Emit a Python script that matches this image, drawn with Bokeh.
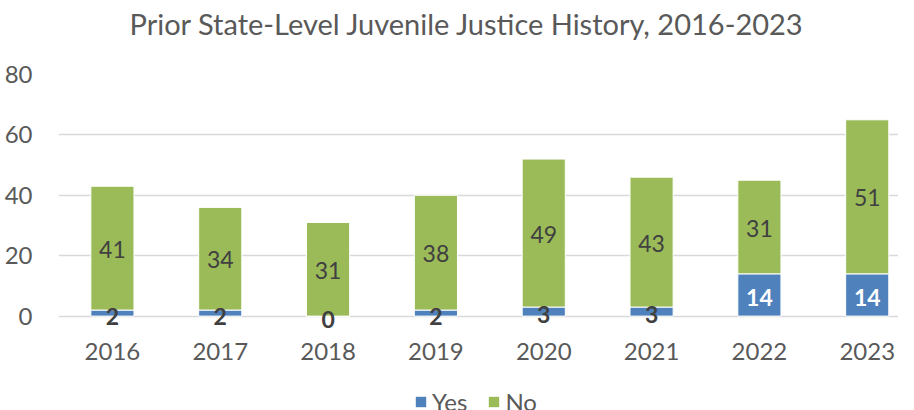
from bokeh.plotting import figure
from bokeh.models import ColumnDataSource, Range1d, Legend, LegendItem, FixedTicker, Title
from bokeh.layouts import column
from bokeh.core.properties import value
from bokeh.embed import file_html
from bokeh.resources import INLINE

years = ["2016", "2017", "2018", "2019", "2020", "2021", "2022", "2023"]
yes_vals = [2, 2, 0, 2, 3, 3, 14, 14]
no_vals = [41, 34, 31, 38, 49, 43, 31, 51]
y_ticks = [0, 20, 40, 60, 80]
series = ["Yes", "No"]

BLUE = "#4F81BD"
GREEN = "#9BBB59"
FONT = "Lato"

xs = list(range(len(years)))
src = ColumnDataSource(dict(x=xs, Yes=yes_vals, No=no_vals))

p = figure(width=898, height=368, x_range=Range1d(-0.5, 7.29), y_range=Range1d(-4.1, 80),
           output_backend="svg", toolbar_location=None,
           min_border_left=58, min_border_right=0, min_border_top=0, min_border_bottom=40)
p.title = None
p.outline_line_color = None
p.background_fill_color = "white"
p.border_fill_color = "white"

spacer = Title(text=" ", text_font=FONT, text_font_size="24px", standoff=0)
p.add_layout(spacer, "above")
title = Title(text="Prior State-Level Juvenile Justice History, 2016-2023",
              text_font=FONT, text_font_size="29px", text_font_style="normal",
              text_color="#595959", align="left", offset=71, standoff=6)
p.add_layout(title, "above")

r = p.vbar_stack(series, x="x", width=0.4, source=src, color=[BLUE, GREEN],
                 line_color="white", line_width=1)

# data labels
yes_y = [v / 2 for v in yes_vals]
no_y = [y + n / 2 for y, n in zip(yes_vals, no_vals)]
yes_col = ["white" if v >= 10 else "#404040" for v in yes_vals]
lab = ColumnDataSource(dict(x=xs, yy=yes_y, ny=no_y,
                            yt=[str(v) for v in yes_vals], nt=[str(v) for v in no_vals],
                            yc=yes_col))
p.text(x="x", y="ny", text="nt", source=lab, text_align="center", text_baseline="middle",
       text_font=value(FONT), text_font_size="23px", text_color="#404040", y_offset=1)
p.text(x="x", y="yy", text="yt", source=lab, text_align="center", text_baseline="middle",
       text_font=value(FONT), text_font_size="23px", text_font_style="bold",
       text_color="yc", y_offset=3)

p.xgrid.grid_line_color = None
p.ygrid.grid_line_color = "#D9D9D9"
p.ygrid.grid_line_width = 1.5

p.yaxis.ticker = FixedTicker(ticks=y_ticks)
p.yaxis.axis_line_color = None
p.yaxis.major_tick_line_color = None
p.yaxis.minor_tick_line_color = None
p.yaxis.major_tick_out = 0
p.yaxis.major_label_text_font = FONT
p.yaxis.major_label_text_font_size = "24px"
p.yaxis.major_label_text_color = "#595959"
p.yaxis.major_label_standoff = 26

p.xaxis.ticker = FixedTicker(ticks=xs)
p.xaxis.major_label_overrides = {i: y for i, y in zip(xs, years)}
p.xaxis.axis_line_color = None
p.xaxis.major_tick_line_color = None
p.xaxis.minor_tick_line_color = None
p.xaxis.major_tick_out = 0
p.xaxis.major_label_text_font = FONT
p.xaxis.major_label_text_font_size = "24px"
p.xaxis.major_label_text_color = "#595959"
p.xaxis.major_label_standoff = 14

# legend strip below the chart (swatch renderers sit outside the visible range)
p2 = figure(width=898, height=56, x_range=Range1d(0, 1), y_range=Range1d(0, 1),
            output_backend="svg", toolbar_location=None,
            x_axis_location=None, y_axis_location=None,
            min_border_left=0, min_border_right=0, min_border_top=0, min_border_bottom=0)
p2.outline_line_color = None
p2.xgrid.grid_line_color = None
p2.ygrid.grid_line_color = None
swatch = ColumnDataSource(dict(x=[-5], top=[-4], bottom=[-5]))
r_yes = p2.vbar(x="x", top="top", bottom="bottom", source=swatch, width=0.1,
                fill_color=BLUE, line_color=None)
r_no = p2.vbar(x="x", top="top", bottom="bottom", source=swatch, width=0.1,
               fill_color=GREEN, line_color=None)
legend = Legend(items=[LegendItem(label=series[0], renderers=[r_yes]),
                       LegendItem(label=series[1], renderers=[r_no])],
                orientation="horizontal", location=(356, 8),
                label_text_font=FONT, label_text_font_size="24px", label_text_color="#595959",
                glyph_width=13, glyph_height=13, label_standoff=5, spacing=20,
                border_line_color=None, background_fill_alpha=0, margin=0, padding=0)
p2.add_layout(legend, "center")

layout = column(p, p2, spacing=0)
open("out.html", "w").write(file_html(layout, INLINE))
